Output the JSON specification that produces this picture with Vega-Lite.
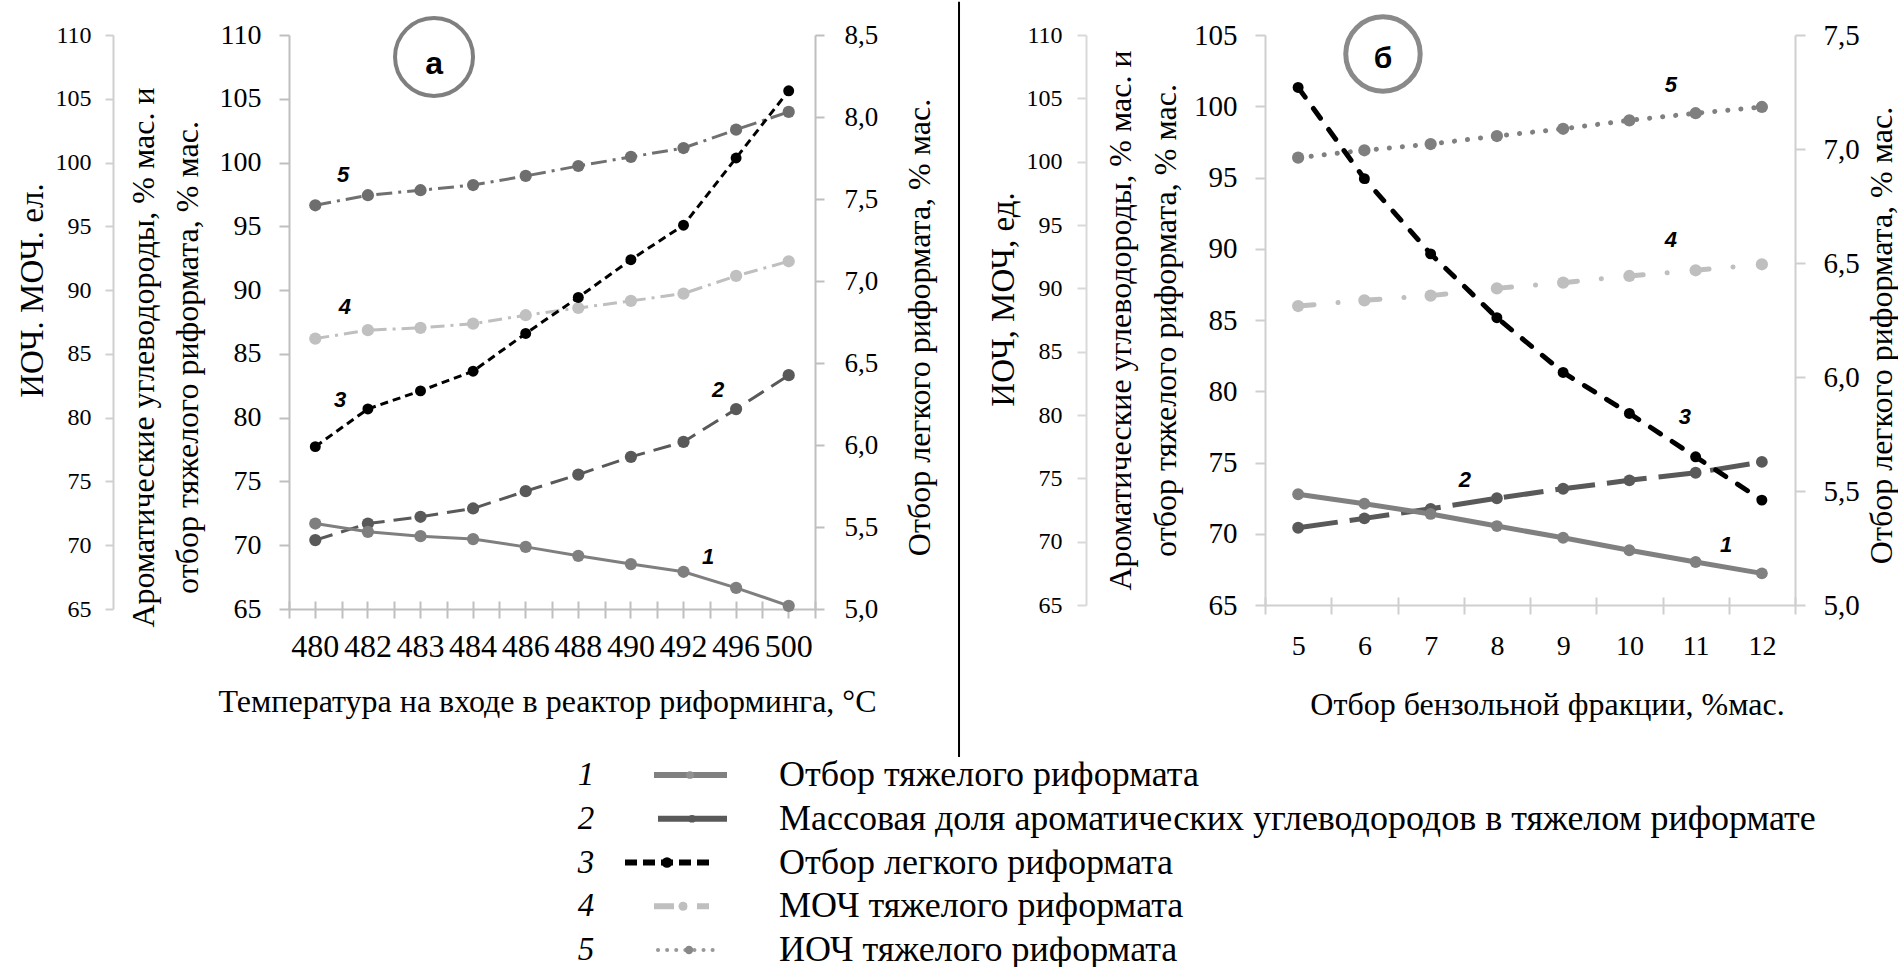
{
  "$schema": "https://vega.github.io/schema/vega-lite/v6.json",
  "padding": {"left": 16, "top": 0, "right": 0, "bottom": 0},
  "autosize": {"type": "pad"},
  "background": "white",
  "config": {
    "font": "Liberation Serif",
    "view": {"stroke": null},
    "locale": {"number": {"decimal": ",", "thousands": " ", "grouping": [3], "currency": ["", ""]}},
    "axis": {"grid": false, "labelFont": "Liberation Serif", "titleFont": "Liberation Serif", "labelColor": "#000", "titleColor": "#000", "titleFontWeight": "normal", "labelFontWeight": "normal", "tickColor": "#bfbfbf", "domainColor": "#bfbfbf", "tickWidth": 2, "domainWidth": 2, "labelOverlap": false, "labelFlush": false}
  },
  "datasets": {
    "a": [
      {"t":480,"s":1,"v":71.70},{"t":482,"s":1,"v":71.05},{"t":483,"s":1,"v":70.71},{"t":484,"s":1,"v":70.48},{"t":486,"s":1,"v":69.87},{"t":488,"s":1,"v":69.17},{"t":490,"s":1,"v":68.52},{"t":492,"s":1,"v":67.92},{"t":496,"s":1,"v":66.66},{"t":500,"s":1,"v":65.25},
      {"t":480,"s":2,"v":70.40},{"t":482,"s":2,"v":71.70},{"t":483,"s":2,"v":72.23},{"t":484,"s":2,"v":72.88},{"t":486,"s":2,"v":74.24},{"t":488,"s":2,"v":75.54},{"t":490,"s":2,"v":76.93},{"t":492,"s":2,"v":78.10},{"t":496,"s":2,"v":80.67},{"t":500,"s":2,"v":83.33},
      {"t":480,"s":3,"v":5.99},{"t":482,"s":3,"v":6.22},{"t":483,"s":3,"v":6.33},{"t":484,"s":3,"v":6.45},{"t":486,"s":3,"v":6.68},{"t":488,"s":3,"v":6.90},{"t":490,"s":3,"v":7.13},{"t":492,"s":3,"v":7.34},{"t":496,"s":3,"v":7.75},{"t":500,"s":3,"v":8.16},
      {"t":480,"s":4,"v":86.20},{"t":482,"s":4,"v":86.86},{"t":483,"s":4,"v":87.04},{"t":484,"s":4,"v":87.37},{"t":486,"s":4,"v":88.03},{"t":488,"s":4,"v":88.60},{"t":490,"s":4,"v":89.15},{"t":492,"s":4,"v":89.73},{"t":496,"s":4,"v":91.11},{"t":500,"s":4,"v":92.26},
      {"t":480,"s":5,"v":96.65},{"t":482,"s":5,"v":97.44},{"t":483,"s":5,"v":97.83},{"t":484,"s":5,"v":98.24},{"t":486,"s":5,"v":98.95},{"t":488,"s":5,"v":99.73},{"t":490,"s":5,"v":100.44},{"t":492,"s":5,"v":101.14},{"t":496,"s":5,"v":102.58},{"t":500,"s":5,"v":103.97}
    ],
    "b": [
      {"t":5,"s":1,"v":72.77},{"t":6,"s":1,"v":72.11},{"t":7,"s":1,"v":71.39},{"t":8,"s":1,"v":70.54},{"t":9,"s":1,"v":69.72},{"t":10,"s":1,"v":68.84},{"t":11,"s":1,"v":68.02},{"t":12,"s":1,"v":67.22},
      {"t":5,"s":2,"v":70.42},{"t":6,"s":2,"v":71.08},{"t":7,"s":2,"v":71.75},{"t":8,"s":2,"v":72.49},{"t":9,"s":2,"v":73.16},{"t":10,"s":2,"v":73.75},{"t":11,"s":2,"v":74.28},{"t":12,"s":2,"v":75.04},
      {"t":5,"s":3,"v":7.27},{"t":6,"s":3,"v":6.87},{"t":7,"s":3,"v":6.54},{"t":8,"s":3,"v":6.26},{"t":9,"s":3,"v":6.02},{"t":10,"s":3,"v":5.84},{"t":11,"s":3,"v":5.65},{"t":12,"s":3,"v":5.46},
      {"t":5,"s":4,"v":85.98},{"t":6,"s":4,"v":86.38},{"t":7,"s":4,"v":86.71},{"t":8,"s":4,"v":87.22},{"t":9,"s":4,"v":87.62},{"t":10,"s":4,"v":88.09},{"t":11,"s":4,"v":88.49},{"t":12,"s":4,"v":88.91},
      {"t":5,"s":5,"v":96.39},{"t":6,"s":5,"v":96.91},{"t":7,"s":5,"v":97.35},{"t":8,"s":5,"v":97.91},{"t":9,"s":5,"v":98.42},{"t":10,"s":5,"v":99.01},{"t":11,"s":5,"v":99.51},{"t":12,"s":5,"v":99.95}
    ],
    "ann": [
      {"p":"a","k":"num","txt":"5","fx":0.103,"fy":99.03},
      {"p":"a","k":"num","txt":"4","fx":0.106,"fy":88.68},
      {"p":"a","k":"num","txt":"3","fx":0.097,"fy":81.4},
      {"p":"a","k":"num","txt":"2","fx":0.816,"fy":82.18},
      {"p":"a","k":"num","txt":"1","fx":0.797,"fy":69.09},
      {"p":"a","k":"circ","txt":"а","fx":0.2757,"fy":108.28},
      {"p":"a","k":"sep","txt":"","fx":1.2738,"fy":112.6,"fy2":53.4},
      {"p":"b","k":"num","txt":"5","fx":0.766,"fy":106.05},
      {"p":"b","k":"num","txt":"4","fx":0.766,"fy":93.82},
      {"p":"b","k":"num","txt":"3","fx":0.792,"fy":79.84},
      {"p":"b","k":"num","txt":"2","fx":0.377,"fy":74.87},
      {"p":"b","k":"num","txt":"1","fx":0.870,"fy":69.74},
      {"p":"b","k":"circ","txt":"б","fx":0.2226,"fy":108.5}
    ],
    "leg": [
      {"row":1,"num":"1","label":"Отбор тяжелого риформата"},
      {"row":2,"num":"2","label":"Массовая доля ароматических углеводородов в тяжелом риформате"},
      {"row":3,"num":"3","label":"Отбор легкого риформата"},
      {"row":4,"num":"4","label":"МОЧ тяжелого риформата"},
      {"row":5,"num":"5","label":"ИОЧ тяжелого риформата"}
    ]
  },
  "columns": 2,
  "spacing": {"row": 166, "column": 450},
  "bounds": "flush",
  "align": "none",
  "concat": [
    {
      "width": 526,
      "height": 574,
      "resolve": {"scale": {"x": "independent", "y": "independent"}},
      "layer": [
        {
          "data": {"name": "a"},
          "transform": [{"filter": "datum.s == 2"}],
          "mark": {"type": "line", "color": "#595959", "strokeWidth": 3, "strokeDash": [18, 9], "point": {"filled": true, "size": 150, "color": "#595959"}},
          "encoding": {
            "x": {"field": "t", "type": "ordinal", "bandPosition": 0.5, "scale": {"type": "band", "domain": [480,482,483,484,486,488,490,492,496,500], "paddingInner": 0, "paddingOuter": 0},
                  "axis": {"orient": "bottom", "offset": -8, "tickSize": 17, "tickBand": "extent", "domain": false, "labels": false, "title": null}},
            "y": {"field": "v", "type": "quantitative", "scale": {"domain": [65, 110], "nice": false, "zero": false}, "axis": null}
          }
        },
        {
          "data": {"name": "a"},
          "transform": [{"filter": "datum.s == 1"}],
          "mark": {"type": "line", "color": "#7f7f7f", "strokeWidth": 3, "point": {"filled": true, "size": 150, "color": "#7f7f7f"}},
          "encoding": {
            "x": {"field": "t", "type": "ordinal", "bandPosition": 0.5, "scale": {"type": "band", "domain": [480,482,483,484,486,488,490,492,496,500], "paddingInner": 0, "paddingOuter": 0},
                  "axis": {"orient": "bottom", "offset": -8, "tickSize": 17, "tickBand": "center", "domain": false, "labelFontSize": 32, "labelPadding": 13, "labelAngle": 0,
                           "title": "Температура на входе в реактор риформинга, °C", "titleFontSize": 32, "titlePadding": 24, "titleX": 258}},
            "y": {"field": "v", "type": "quantitative", "scale": {"domain": [65, 110], "nice": false, "zero": false},
                  "axis": {"orient": "left", "values": [65,70,75,80,85,90,95,100,105,110], "format": "d", "labelFontSize": 28, "labelPadding": 18, "tickSize": 10,
                           "title": ["Ароматические углеводороды, % мас. и", "отбор  тяжелого риформата, % мас."], "titleFontSize": 32, "titlePadding": 15, "titleLineHeight": 44, "titleY": 322}}
          }
        },
        {
          "data": {"name": "a"},
          "transform": [{"filter": "datum.s == 4"}],
          "mark": {"type": "line", "color": "#bfbfbf", "strokeWidth": 3, "strokeDash": [14, 6, 3, 6], "point": {"filled": true, "size": 150, "color": "#c0c0c0"}},
          "encoding": {
            "x": {"field": "t", "type": "ordinal", "bandPosition": 0.5, "scale": {"type": "band", "domain": [480,482,483,484,486,488,490,492,496,500], "paddingInner": 0, "paddingOuter": 0},
                  "axis": {"orient": "bottom", "offset": 0, "ticks": false, "labels": false, "domain": true, "title": null}},
            "y": {"field": "v", "type": "quantitative", "scale": {"domain": [65, 110], "nice": false, "zero": false}, "axis": null}
          }
        },
        {
          "data": {"name": "a"},
          "transform": [{"filter": "datum.s == 5"}],
          "mark": {"type": "line", "color": "#707070", "strokeWidth": 3, "strokeDash": [16, 6, 3, 6], "point": {"filled": true, "size": 150, "color": "#6e6e6e"}},
          "encoding": {
            "x": {"field": "t", "type": "ordinal", "bandPosition": 0.5, "scale": {"type": "band", "domain": [480,482,483,484,486,488,490,492,496,500], "paddingInner": 0, "paddingOuter": 0}, "axis": null},
            "y": {"field": "v", "type": "quantitative", "scale": {"domain": [65, 110], "nice": false, "zero": false}, "axis": null}
          }
        },
        {
          "data": {"name": "a"},
          "transform": [{"filter": "datum.s == 3"}],
          "mark": {"type": "line", "color": "#000000", "strokeWidth": 3, "strokeDash": [8, 5], "point": {"filled": true, "size": 120, "color": "#000000"}},
          "encoding": {
            "x": {"field": "t", "type": "ordinal", "bandPosition": 0.5, "scale": {"type": "band", "domain": [480,482,483,484,486,488,490,492,496,500], "paddingInner": 0, "paddingOuter": 0}, "axis": null},
            "y": {"field": "v", "type": "quantitative", "scale": {"domain": [5, 8.5], "nice": false, "zero": false},
                  "axis": {"orient": "right", "values": [5,5.5,6,6.5,7,7.5,8,8.5], "format": ".1f", "labelFontSize": 27, "labelPadding": 20, "tickSize": 9,
                           "title": "Отбор легкого риформата, % мас.", "titleFontSize": 32, "titleAngle": 270, "titleBaseline": "top", "titlePadding": 27, "titleY": 292}}
          }
        },
        {
          "data": {"name": "ann"},
          "transform": [{"filter": "datum.p == 'a'"}],
          "encoding": {
            "x": {"field": "fx", "type": "quantitative", "scale": {"domain": [0, 1], "nice": false, "zero": false}, "axis": null},
            "y": {"field": "fy", "type": "quantitative", "scale": {"domain": [65, 110], "nice": false, "zero": false},
                  "axis": {"orient": "left", "offset": 176, "values": [65,70,75,80,85,90,95,100,105,110], "format": "d", "labelFontSize": 24, "labelPadding": 14, "tickSize": 8, "domainColor": "#d0d0d0", "tickColor": "#d0d0d0",
                           "title": "ИОЧ. МОЧ. ел.", "titleFontSize": 33, "titlePadding": 6, "titleY": 255}}
          },
          "layer": [
            {"transform": [{"filter": "datum.k == 'num'"}], "mark": {"type": "text", "font": "Liberation Sans", "fontStyle": "italic", "fontWeight": "bold", "fontSize": 22, "color": "#000", "align": "center", "baseline": "middle"}, "encoding": {"text": {"field": "txt"}}},
            {"transform": [{"filter": "datum.k == 'circ'"}], "mark": {"type": "point", "shape": "circle", "filled": false, "size": 6082, "color": "#7f7f7f", "strokeWidth": 4, "opacity": 1}},
            {"transform": [{"filter": "datum.k == 'circ'"}], "mark": {"type": "text", "font": "Liberation Sans", "fontWeight": "bold", "fontSize": 32, "color": "#000", "align": "center", "baseline": "alphabetic", "dy": 17}, "encoding": {"text": {"field": "txt"}}},
            {"transform": [{"filter": "datum.k == 'sep'"}], "mark": {"type": "rule", "color": "#000", "strokeWidth": 2}, "encoding": {"y2": {"field": "fy2"}}}
          ]
        }
      ]
    },
    {
      "width": 530,
      "height": 570,
      "resolve": {"scale": {"x": "independent", "y": "independent"}},
      "layer": [
        {
          "data": {"name": "b"},
          "transform": [{"filter": "datum.s == 2"}],
          "mark": {"type": "line", "color": "#595959", "strokeWidth": 5, "strokeDash": [40, 12], "point": {"filled": true, "size": 140, "color": "#595959"}},
          "encoding": {
            "x": {"field": "t", "type": "ordinal", "bandPosition": 0.5, "scale": {"type": "band", "domain": [5,6,7,8,9,10,11,12], "paddingInner": 0, "paddingOuter": 0},
                  "axis": {"orient": "bottom", "offset": 0, "ticks": false, "labels": false, "domain": true, "domainColor": "#cfcfcf", "title": null}},
            "y": {"field": "v", "type": "quantitative", "scale": {"domain": [65, 105], "nice": false, "zero": false}, "axis": null}
          }
        },
        {
          "data": {"name": "b"},
          "transform": [{"filter": "datum.s == 1"}],
          "mark": {"type": "line", "color": "#808080", "strokeWidth": 5, "point": {"filled": true, "size": 140, "color": "#808080"}},
          "encoding": {
            "x": {"field": "t", "type": "ordinal", "bandPosition": 0.5, "scale": {"type": "band", "domain": [5,6,7,8,9,10,11,12], "paddingInner": 0, "paddingOuter": 0},
                  "axis": {"orient": "bottom", "offset": -8, "tickSize": 17, "tickBand": "extent", "domain": false, "tickColor": "#cfcfcf", "labelFontSize": 28, "labelPadding": 18, "labelAngle": 0,
                           "title": "Отбор бензольной фракции, %мас.", "titleFontSize": 32, "titlePadding": 29, "titleX": 282}},
            "y": {"field": "v", "type": "quantitative", "scale": {"domain": [65, 105], "nice": false, "zero": false},
                  "axis": {"orient": "left", "values": [65,70,75,80,85,90,95,100,105], "format": "d", "labelFontSize": 29, "labelPadding": 18, "tickSize": 10, "domainColor": "#cfcfcf", "tickColor": "#cfcfcf",
                           "title": ["Ароматические углеводороды, % мас. и", "отбор  тяжелого риформата, % мас."], "titleFontSize": 32, "titlePadding": 11, "titleLineHeight": 45}}
          }
        },
        {
          "data": {"name": "b"},
          "transform": [{"filter": "datum.s == 4"}],
          "mark": {"type": "line", "color": "#bfbfbf", "strokeWidth": 5, "strokeCap": "round", "strokeDash": [16, 24, 0.1, 26], "point": {"filled": true, "size": 150, "color": "#bfbfbf"}},
          "encoding": {
            "x": {"field": "t", "type": "ordinal", "bandPosition": 0.5, "scale": {"type": "band", "domain": [5,6,7,8,9,10,11,12], "paddingInner": 0, "paddingOuter": 0}, "axis": null},
            "y": {"field": "v", "type": "quantitative", "scale": {"domain": [65, 105], "nice": false, "zero": false}, "axis": null}
          }
        },
        {
          "data": {"name": "b"},
          "transform": [{"filter": "datum.s == 5"}],
          "mark": {"type": "line", "color": "#808080", "strokeWidth": 5, "strokeCap": "round", "strokeDash": [0.1, 13], "point": {"filled": true, "size": 150, "color": "#7f7f7f"}},
          "encoding": {
            "x": {"field": "t", "type": "ordinal", "bandPosition": 0.5, "scale": {"type": "band", "domain": [5,6,7,8,9,10,11,12], "paddingInner": 0, "paddingOuter": 0}, "axis": null},
            "y": {"field": "v", "type": "quantitative", "scale": {"domain": [65, 105], "nice": false, "zero": false}, "axis": null}
          }
        },
        {
          "data": {"name": "b"},
          "transform": [{"filter": "datum.s == 3"}],
          "mark": {"type": "line", "color": "#000000", "strokeWidth": 5, "strokeCap": "round", "strokeDash": [12, 14], "point": {"filled": true, "size": 120, "color": "#000000"}},
          "encoding": {
            "x": {"field": "t", "type": "ordinal", "bandPosition": 0.5, "scale": {"type": "band", "domain": [5,6,7,8,9,10,11,12], "paddingInner": 0, "paddingOuter": 0}, "axis": null},
            "y": {"field": "v", "type": "quantitative", "scale": {"domain": [5, 7.5], "nice": false, "zero": false},
                  "axis": {"orient": "right", "values": [5,5.5,6,6.5,7,7.5], "format": ".1f", "labelFontSize": 29, "labelPadding": 18, "tickSize": 10, "domainColor": "#cfcfcf", "tickColor": "#cfcfcf",
                           "title": "Отбор легкого риформата, % мас.", "titleFontSize": 32, "titleAngle": 270, "titleBaseline": "top", "titlePadding": 7, "titleY": 300}}
          }
        },
        {
          "data": {"name": "ann"},
          "transform": [{"filter": "datum.p == 'b'"}],
          "encoding": {
            "x": {"field": "fx", "type": "quantitative", "scale": {"domain": [0, 1], "nice": false, "zero": false}, "axis": null},
            "y": {"field": "fy", "type": "quantitative", "scale": {"domain": [65, 110], "nice": false, "zero": false},
                  "axis": {"orient": "left", "offset": 179, "values": [65,70,75,80,85,90,95,100,105,110], "format": "d", "labelFontSize": 24, "labelPadding": 15, "tickSize": 9, "domainColor": "#d9d9d9", "tickColor": "#d9d9d9",
                           "title": "ИОЧ, МОЧ, ед.", "titleFontSize": 33, "titlePadding": 6, "titleY": 264}}
          },
          "layer": [
            {"transform": [{"filter": "datum.k == 'num'"}], "mark": {"type": "text", "font": "Liberation Sans", "fontStyle": "italic", "fontWeight": "bold", "fontSize": 22, "color": "#000", "align": "center", "baseline": "middle"}, "encoding": {"text": {"field": "txt"}}},
            {"transform": [{"filter": "datum.k == 'circ'"}], "mark": {"type": "point", "shape": "circle", "filled": false, "size": 5542, "color": "#8a8a8a", "strokeWidth": 5, "opacity": 1}},
            {"transform": [{"filter": "datum.k == 'circ'"}], "mark": {"type": "text", "font": "Liberation Sans", "fontWeight": "bold", "fontSize": 30, "color": "#000", "align": "center", "baseline": "alphabetic", "dy": 14}, "encoding": {"text": {"field": "txt"}}}
          ]
        }
      ]
    },
    {
      "width": 526,
      "height": 175,
      "data": {"name": "leg"},
      "encoding": {
        "y": {"field": "row", "type": "quantitative", "scale": {"domain": [1, 5], "reverse": true, "nice": false, "zero": false}, "axis": null}
      },
      "layer": [
        {"mark": {"type": "text", "font": "Liberation Serif", "fontStyle": "italic", "fontSize": 33, "align": "center", "baseline": "middle", "color": "#000"},
         "encoding": {"x": {"datum": 0.5646, "type": "quantitative", "scale": {"domain": [0, 1], "nice": false, "zero": false}, "axis": null}, "text": {"field": "num"}}},
        {"mark": {"type": "text", "font": "Liberation Serif", "fontSize": 36, "align": "left", "baseline": "middle", "color": "#000"},
         "encoding": {"x": {"datum": 0.9316, "type": "quantitative"}, "text": {"field": "label"}}},
        {"transform": [{"filter": "datum.row == 1"}], "mark": {"type": "rule", "color": "#808080", "strokeWidth": 6}, "encoding": {"x": {"datum": 0.6939, "type": "quantitative"}, "x2": {"datum": 0.8327}}},
        {"transform": [{"filter": "datum.row == 2"}], "mark": {"type": "rule", "color": "#595959", "strokeWidth": 6}, "encoding": {"x": {"datum": 0.7015, "type": "quantitative"}, "x2": {"datum": 0.8327}}},
        {"transform": [{"filter": "datum.row == 3"}], "mark": {"type": "rule", "color": "#000000", "strokeWidth": 6, "strokeDash": [12, 6]}, "encoding": {"x": {"datum": 0.6388, "type": "quantitative"}, "x2": {"datum": 0.8004}}},
        {"transform": [{"filter": "datum.row == 4"}], "mark": {"type": "rule", "color": "#bfbfbf", "strokeWidth": 6, "strokeDash": [20, 10, 3, 10]}, "encoding": {"x": {"datum": 0.6939, "type": "quantitative"}, "x2": {"datum": 0.7985}}},
        {"transform": [{"filter": "datum.row == 5"}], "mark": {"type": "rule", "color": "#999999", "strokeWidth": 4, "strokeCap": "round", "strokeDash": [0.1, 9]}, "encoding": {"x": {"datum": 0.7015, "type": "quantitative"}, "x2": {"datum": 0.8118}}},
        {"transform": [{"filter": "datum.row == 1"}], "mark": {"type": "point", "filled": true, "size": 60, "color": "#909090", "opacity": 1}, "encoding": {"x": {"datum": 0.7624, "type": "quantitative"}}},
        {"transform": [{"filter": "datum.row == 2"}], "mark": {"type": "point", "filled": true, "size": 60, "color": "#595959", "opacity": 1}, "encoding": {"x": {"datum": 0.7662, "type": "quantitative"}}},
        {"transform": [{"filter": "datum.row == 3"}], "mark": {"type": "point", "filled": true, "size": 110, "color": "#000000", "opacity": 1}, "encoding": {"x": {"datum": 0.7186, "type": "quantitative"}}},
        {"transform": [{"filter": "datum.row == 4"}], "mark": {"type": "point", "filled": true, "size": 80, "color": "#bfbfbf", "opacity": 1}, "encoding": {"x": {"datum": 0.749, "type": "quantitative"}}},
        {"transform": [{"filter": "datum.row == 5"}], "mark": {"type": "point", "filled": true, "size": 70, "color": "#888888", "opacity": 1}, "encoding": {"x": {"datum": 0.7605, "type": "quantitative"}}}
      ]
    }
  ]
}
